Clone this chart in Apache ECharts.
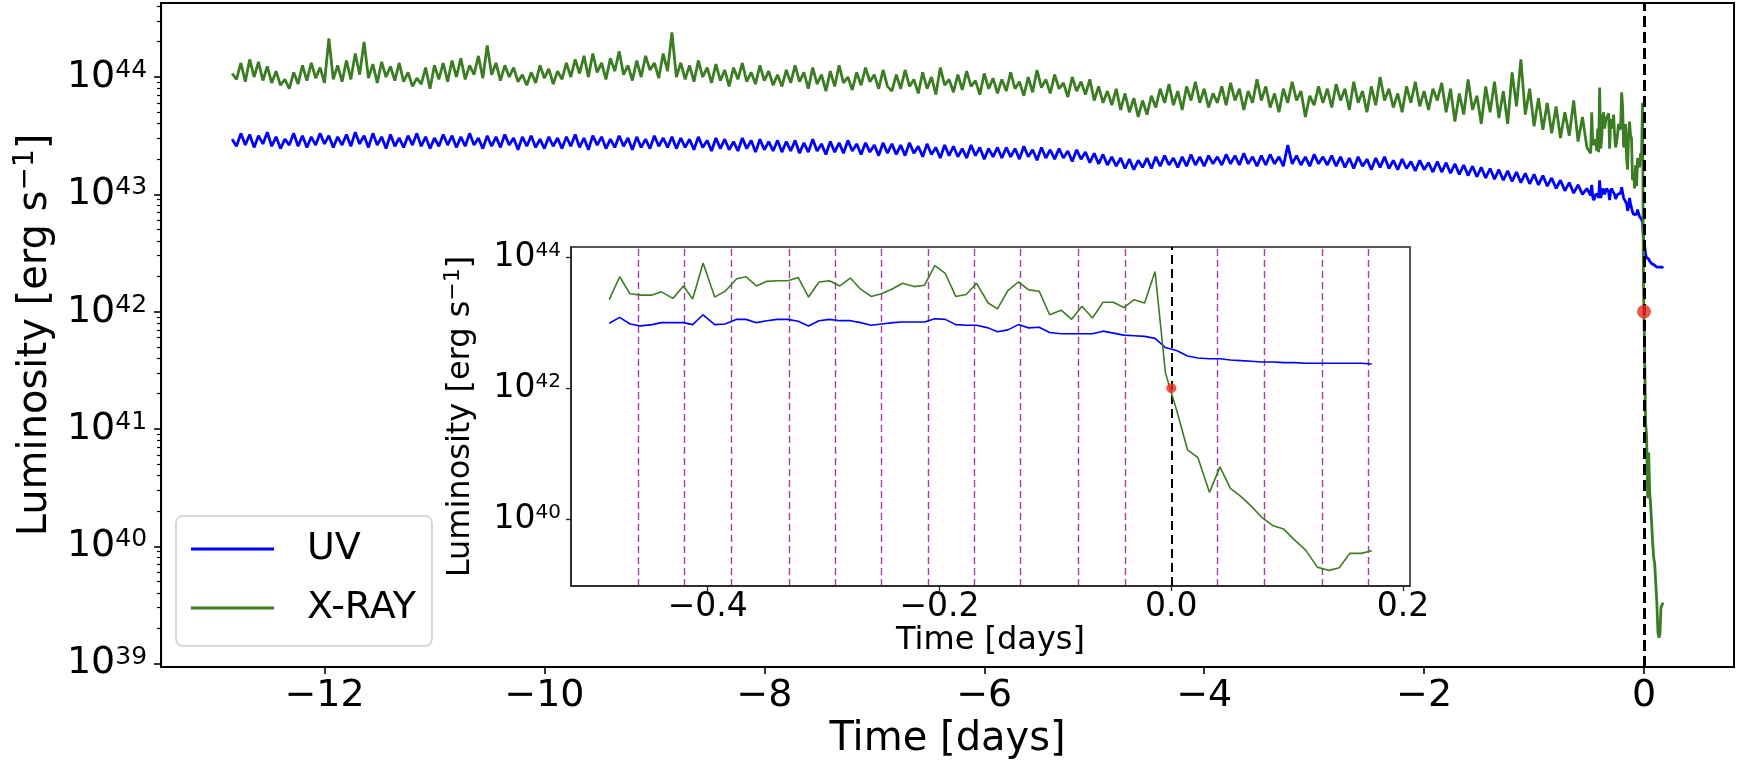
<!DOCTYPE html>
<html>
<head>
<meta charset="utf-8">
<title>UV / X-ray luminosity</title>
<script src="https://cdn.jsdelivr.net/npm/echarts@6.0.0/dist/echarts.min.js"></script>
<style>
  body { margin: 0; background: #fff; }
  #chart { width: 1738px; height: 768px; }
</style>
</head>
<body>
<div id="chart"></div>
<script>
  const earlyStart = -12.84
  const earlyStep = 0.04
  const uvEarly = [
    43.47,43.41,43.52,43.42,43.51,43.40,43.50,43.43,43.53,43.41,43.49,43.39,43.47,43.42,43.52,43.41,43.50,43.40,43.49,43.42,43.52,43.43,43.50,43.40,43.49,
    43.42,43.51,43.41,43.53,43.43,43.50,43.40,43.52,43.42,43.49,43.39,43.51,43.41,43.48,43.40,43.50,43.42,43.52,43.41,43.49,43.39,43.48,43.41,43.51,43.42,
    43.50,43.40,43.49,43.41,43.52,43.42,43.48,43.39,43.50,43.41,43.49,43.40,43.51,43.42,43.48,43.38,43.49,43.41,43.50,43.40,43.47,43.39,43.49,43.41,43.48,
    43.39,43.49,43.41,43.51,43.40,43.48,43.38,43.50,43.42,43.49,43.39,43.47,43.40,43.50,43.41,43.48,43.38,43.49,43.40,43.47,43.39,43.50,43.41,43.48,43.40,
    43.49,43.39,43.48,43.40,43.47,43.38,43.49,43.40,43.46,43.37,43.48,43.39,43.47,43.38,43.45,43.37,43.48,43.39,43.46,43.36,43.47,43.38,43.45,43.37,43.46,
    43.36,43.45,43.37,43.46,43.35,43.44,43.36,43.47,43.37,43.43,43.34,43.45,43.36,43.44,43.35,43.46,43.37,43.43,43.34,43.44,43.36,43.42,43.33,43.44,43.35,
    43.43,43.34,43.42,43.33,43.44,43.35,43.41,43.32,43.43,43.34,43.40,43.31,43.42,43.33,43.41,43.32,43.39,43.31,43.42,43.33,43.40,43.30,43.39,43.32,43.40,
    43.31,43.40,43.32,43.39,43.30,43.41,43.32,43.38,43.29,43.40,43.31,43.38,43.30,43.39,43.31,43.37,43.28,43.38,43.30,43.36,43.27,43.35,43.26,43.34,43.25,
    43.32,43.24,43.31,43.22,43.30,43.21,43.29,43.23,43.31,43.22,43.32,43.24,43.33,43.25,43.31,43.23,43.32,43.24,43.34,43.25,43.32,43.24,43.33,43.26,43.32,
    43.25,43.34,43.26,43.33,43.25,43.35,43.26,43.32,43.24,43.33,43.25,43.34,43.26,43.32,43.24,43.42,43.26,43.33,43.25,43.32,43.24,43.34,43.26,43.32,43.25,
    43.33,43.24,43.32,43.23,43.31,43.22,43.32,43.24,43.30,43.21,43.31,43.23,43.32,43.22,43.29,43.21,43.30,43.22,43.28,43.20,43.29,43.21,43.27,43.19,43.28,
    43.19,43.27,43.18,43.26,43.17,43.25,43.16,43.24,43.15,43.23,43.14,43.22,43.13,43.21,43.12,43.20,43.11,43.19,43.10,43.18,43.09,43.17,43.08,43.16,43.07,
    43.14,43.05,43.12,43.03,43.10,43.01,43.08,43.00,43.05
  ]
  const xrayEarly = [
    44.03,43.98,44.12,43.96,44.15,44.00,44.13,43.97,44.09,43.95,44.05,43.93,43.98,43.90,44.04,43.94,44.10,43.97,44.12,43.99,44.08,43.95,44.33,43.98,44.10,
    43.96,44.14,43.98,44.20,44.02,44.30,43.99,44.11,43.95,44.13,44.00,44.09,43.97,44.12,43.96,44.04,43.92,43.99,43.94,44.08,43.90,44.10,43.98,44.12,43.96,
    44.14,44.00,44.16,43.98,44.10,44.02,44.18,43.99,44.27,44.02,44.12,43.97,44.10,44.00,44.08,43.96,44.02,43.93,44.04,43.95,44.10,43.99,44.07,43.94,44.05,
    43.98,44.12,44.00,44.15,44.03,44.18,44.00,44.20,44.04,44.12,43.98,44.16,44.05,44.22,44.02,44.10,43.97,44.14,44.00,44.18,44.06,44.12,43.99,44.20,44.05,
    44.38,44.00,44.12,43.98,44.10,43.96,44.14,44.00,44.08,43.95,44.11,43.97,44.06,43.92,44.08,43.98,44.12,43.96,44.04,43.94,44.10,43.97,44.05,43.93,44.02,
    43.92,44.06,43.95,44.10,43.96,44.04,43.90,44.08,43.94,44.02,43.88,44.05,43.92,44.10,43.95,44.00,43.89,44.04,43.93,44.08,43.96,44.02,43.90,44.06,43.92,
    43.88,44.02,43.90,44.06,43.92,43.98,43.86,44.04,43.90,44.00,43.85,44.08,43.93,43.98,43.87,44.02,43.89,44.05,43.92,43.97,43.85,44.03,43.90,43.99,43.86,
    43.98,43.88,44.04,43.90,43.96,43.84,44.00,43.87,44.06,43.91,43.98,43.86,44.02,43.90,43.95,43.83,44.00,43.88,43.96,43.85,43.98,43.80,43.92,43.78,43.88,
    43.76,43.90,43.72,43.86,43.70,43.82,43.66,43.80,43.68,43.84,43.74,43.90,43.78,43.94,43.76,43.88,43.72,43.92,43.80,43.96,43.78,43.90,43.74,43.86,43.78,
    43.92,43.76,43.95,43.80,43.90,43.72,43.88,43.78,43.98,43.80,43.92,43.74,43.86,43.70,43.90,43.78,43.96,43.80,43.88,43.66,43.84,43.76,43.92,43.78,43.90,
    43.74,43.94,43.80,43.90,43.72,43.96,43.78,43.88,43.70,43.92,43.76,44.00,43.80,43.90,43.74,43.86,43.70,43.92,43.78,43.96,43.75,43.88,43.72,43.90,43.80,
    43.95,43.70,43.90,43.62,43.86,43.68,43.98,43.72,43.84,43.60,43.92,43.70,43.96,43.65,43.88,43.60,44.04,43.75,44.15,43.68,43.90,43.58,43.82,43.55,43.78,
    43.52,43.75,43.48,43.70,43.50,43.80,43.45,43.66,43.40
  ]

  // last ~0.66 days (days, log10 L)
  const lateTime = [
    -0.485,-0.476,-0.467,-0.458,-0.448,-0.440,-0.430,-0.421,-0.413,-0.404,
    -0.394,-0.385,-0.375,-0.367,-0.358,-0.349,-0.340,-0.331,-0.322,-0.313,
    -0.304,-0.295,-0.286,-0.277,-0.268,-0.259,-0.250,-0.240,-0.232,-0.222,
    -0.213,-0.204,-0.195,-0.186,-0.177,-0.168,-0.158,-0.150,-0.141,-0.132,
    -0.123,-0.114,-0.105,-0.095,-0.086,-0.077,-0.068,-0.059,-0.050,-0.041,
    -0.032,-0.023,-0.014,-0.005,0.005,0.014,0.023,0.033,0.042,0.051,
    0.060,0.069,0.078,0.088,0.097,0.106,0.116,0.126,0.136,0.145,
    0.154,0.164,0.173
  ]
  const uvLate = [
    42.99,43.08,42.98,42.95,42.97,43.00,43.00,43.00,42.97,43.12,
    42.97,42.98,43.05,43.05,43.00,43.03,43.05,43.05,43.02,42.95,
    43.03,43.05,43.03,43.03,43.00,42.96,42.98,43.00,43.01,43.01,
    43.01,43.06,43.05,42.97,42.96,42.96,42.92,42.86,42.89,42.97,
    42.92,42.93,42.85,42.83,42.83,42.83,42.83,42.87,42.84,42.81,
    42.80,42.79,42.76,42.62,42.57,42.49,42.46,42.45,42.45,42.43,
    42.42,42.41,42.40,42.40,42.39,42.39,42.38,42.38,42.38,42.38,
    42.38,42.38,42.37
  ]
  const xrayLate = [
    43.35,43.70,43.44,43.42,43.42,43.47,43.37,43.56,43.36,43.91,
    43.39,43.48,43.67,43.70,43.56,43.63,43.64,43.64,43.69,43.39,
    43.62,43.64,43.56,43.68,43.51,43.40,43.44,43.52,43.60,43.55,
    43.57,43.87,43.75,43.40,43.43,43.60,43.30,43.21,43.49,43.62,
    43.50,43.48,43.12,43.19,43.05,43.25,43.07,43.31,43.31,43.23,
    43.35,43.30,43.78,42.23,41.64,41.06,40.94,40.41,40.80,40.47,
    40.35,40.20,40.03,39.90,39.85,39.69,39.53,39.27,39.22,39.26,
    39.48,39.48,39.52
  ]

  const dropPoint = [0, 42]
  const hourLines = [-11,-10,-9,-8,-7,-6,-5,-4,-3,-2,-1,0,1,2,3,4]

  const mainXTicks = [-12,-10,-8,-6,-4,-2,0]
  const mainYTicks = [39,40,41,42,43,44]
  const insetXTicks = [-0.4,-0.2,0,0.2]
  const insetYTicks = [40,42,44]

  const FONT = 'DejaVu Sans'
  const BLUE = '#0000ff'
  const GREEN = '#3a7d22'
  const RED = '#ee2c22'

  const pair = (ts, vs) => vs.map((v, i) => [ts[i], v])
  const earlyTime = uvEarly.map((_, i) => +(earlyStart + i * earlyStep).toFixed(3))
  const uvMain = pair(earlyTime, uvEarly).concat(pair(lateTime, uvLate))
  const xrayMain = pair(earlyTime, xrayEarly).concat(pair(lateTime, xrayLate))

  const minus = s => String(s).replace('-', '\u2212')

  // log minor ticks (2..9 x 10^n) on the main y axis
  const mainYMin = 38.971, mainYMax = 44.631
  const minorTicks = []
  for (let d = 38; d <= 44; d++) {
    for (let k = 2; k <= 9; k++) {
      const v = d + Math.log10(k)
      if (v > mainYMin && v < mainYMax) minorTicks.push(v)
    }
  }

  const chart = echarts.init(document.getElementById('chart'))

  const option = {
    animation: false,
    textStyle: { fontFamily: FONT },
    grid: [
      { left: 155, top: 3, right: 4, bottom: 101, show: true, borderColor: '#000', borderWidth: 2 },
      { left: 571, top: 247, right: 328, bottom: 182, show: true, borderColor: '#222', borderWidth: 1.5,
        backgroundColor: '#fff', z: 3 }
    ],
    legend: {
      data: ['UV', 'X-RAY'],
      orient: 'vertical', left: 176, top: 516,
      padding: [13, 16, 18, 15], itemGap: 19,
      itemWidth: 83, itemHeight: 3, icon: 'rect',
      backgroundColor: 'rgba(255,255,255,0.8)', borderColor: '#cccccc', borderWidth: 1.6, borderRadius: 7,
      textStyle: { fontSize: 38, fontFamily: FONT, color: '#000', lineHeight: 40, padding: [0, 0, 0, 28] },
      selectedMode: false
    },
    xAxis: [
      {
        gridIndex: 0, type: 'value', min: -13.486, max: 0.818,
        axisLine: { show: true, onZero: false, lineStyle: { color: '#000', width: 2 } },
        axisTick: { show: true, customValues: mainXTicks, length: 7, lineStyle: { color: '#000', width: 1.6 } },
        axisLabel: { customValues: mainXTicks, formatter: v => minus(v), fontSize: 38, color: '#000', margin: 10, lineHeight: 38 },
        splitLine: { show: false },
        name: 'Time [days]', nameLocation: 'middle', nameGap: 48,
        nameTextStyle: { fontSize: 40, color: '#000', lineHeight: 40 }
      },
      {
        gridIndex: 1, type: 'value', min: -0.518, max: 0.206, z: 4,
        axisLine: { show: true, onZero: false, lineStyle: { color: '#222', width: 1.5 } },
        axisTick: { show: true, customValues: insetXTicks, length: 5, lineStyle: { color: '#222', width: 1.3 } },
        axisLabel: { customValues: insetXTicks, formatter: v => minus(v.toFixed(1)), fontSize: 33, color: '#000', margin: 5, lineHeight: 33 },
        splitLine: { show: false },
        name: 'Time [days]', nameLocation: 'middle', nameGap: 27,
        nameTextStyle: { fontSize: 32, color: '#000', lineHeight: 32 }
      }
    ],
    yAxis: [
      {
        gridIndex: 0, type: 'value', min: mainYMin, max: mainYMax,
        axisLine: { show: true, onZero: false, lineStyle: { color: '#000', width: 2 } },
        axisTick: { show: true, customValues: mainYTicks, length: 7, lineStyle: { color: '#000', width: 1.6 } },
        axisLabel: {
          customValues: mainYTicks, margin: 14,
          formatter: v => '{b|10}{s|' + v + '}',
          rich: {
            b: { fontSize: 38, fontFamily: FONT, color: '#000', lineHeight: 38, padding: [4, 0, 4, 0] },
            s: { fontSize: 25, fontFamily: FONT, color: '#000', lineHeight: 25, verticalAlign: 'top' }
          }
        },
        splitLine: { show: false },
        name: '{t|Luminosity [erg s}{u|\u22121}{t|]}', nameLocation: 'middle', nameGap: 108,
        nameTextStyle: {
          rich: {
            t: { fontSize: 40, fontFamily: FONT, color: '#000', lineHeight: 40, padding: [8, 0, 0, 0] },
            u: { fontSize: 28, fontFamily: FONT, color: '#000', lineHeight: 28, verticalAlign: 'top' }
          }
        }
      },
      {
        gridIndex: 0, type: 'value', min: mainYMin, max: mainYMax, position: 'left',
        axisLine: { show: false, onZero: false },
        axisLabel: { show: false },
        splitLine: { show: false },
        axisTick: { show: true, customValues: minorTicks, length: 4, lineStyle: { color: '#000', width: 1.2 } }
      },
      {
        gridIndex: 1, type: 'value', min: 38.982, max: 44.154, z: 4,
        axisLine: { show: true, onZero: false, lineStyle: { color: '#222', width: 1.5 } },
        axisTick: { show: true, customValues: insetYTicks, length: 5, lineStyle: { color: '#222', width: 1.3 } },
        axisLabel: {
          customValues: insetYTicks, margin: 10,
          formatter: v => '{b|10}{s|' + v + '}',
          rich: {
            b: { fontSize: 33, fontFamily: FONT, color: '#000', lineHeight: 33, padding: [1.5, 0, 1.5, 0] },
            s: { fontSize: 20, fontFamily: FONT, color: '#000', lineHeight: 20, verticalAlign: 'top' }
          }
        },
        splitLine: { show: false },
        name: '{t|Luminosity [erg s}{u|\u22121}{t|]}', nameLocation: 'middle', nameGap: 97,
        nameTextStyle: {
          rich: {
            t: { fontSize: 32, fontFamily: FONT, color: '#000', lineHeight: 32, padding: [6, 0, 0, 0] },
            u: { fontSize: 22, fontFamily: FONT, color: '#000', lineHeight: 22, verticalAlign: 'top' }
          }
        }
      }
    ],
    series: [
      {
        name: 'UV', type: 'line', xAxisIndex: 0, yAxisIndex: 0, data: uvMain,
        color: BLUE, showSymbol: false, symbol: 'none', lineStyle: { color: BLUE, width: 2.8 }, z: 2
      },
      {
        name: 'X-RAY', type: 'line', xAxisIndex: 0, yAxisIndex: 0, data: xrayMain,
        color: GREEN, showSymbol: false, symbol: 'none', lineStyle: { color: GREEN, width: 2.8 }, z: 2,
        markLine: {
          silent: true, symbol: ['none', 'none'], label: { show: false },
          lineStyle: { color: '#000', type: [11, 5], width: 3 },
          data: [{ xAxis: 0 }]
        }
      },
      {
        name: 'drop', type: 'scatter', xAxisIndex: 0, yAxisIndex: 0, data: [dropPoint],
        symbolSize: 14, itemStyle: { color: RED }, z: 6, silent: true
      },
      {
        name: 'UV inset', type: 'line', xAxisIndex: 1, yAxisIndex: 2, data: pair(lateTime, uvLate),
        color: BLUE, showSymbol: false, symbol: 'none', lineStyle: { color: BLUE, width: 1.6 }, z: 5,
        markLine: {
          silent: true, symbol: ['none', 'none'], label: { show: false },
          data: hourLines.map(h => ({
            xAxis: h / 24,
            lineStyle: h === 0
              ? { color: '#000', type: [9, 5], width: 2 }
              : { color: '#800080', type: [7, 4], width: 1.4, opacity: 0.75 }
          }))
        }
      },
      {
        name: 'X-RAY inset', type: 'line', xAxisIndex: 1, yAxisIndex: 2, data: pair(lateTime, xrayLate),
        color: GREEN, showSymbol: false, symbol: 'none', lineStyle: { color: GREEN, width: 1.6 }, z: 5
      },
      {
        name: 'drop inset', type: 'scatter', xAxisIndex: 1, yAxisIndex: 2, data: [dropPoint],
        symbolSize: 10, itemStyle: { color: RED }, z: 7, silent: true
      }
    ]
  }

  chart.setOption(option)
</script>
</body>
</html>
